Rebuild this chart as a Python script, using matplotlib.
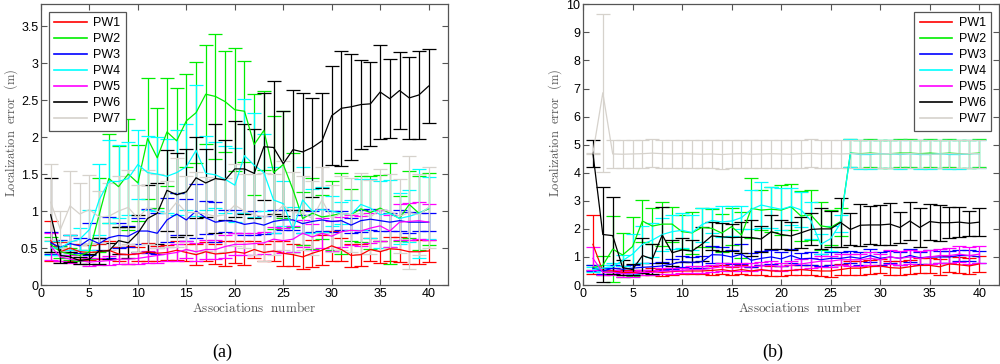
import numpy as np
import matplotlib
matplotlib.use("Agg")
import matplotlib.pyplot as plt
from matplotlib.lines import Line2D

# data (mean and half-width of error bar)
assoc = list(range(1, 41))
series_names = ["PW1", "PW2", "PW3", "PW4", "PW5", "PW6", "PW7"]
series_colors = ["#ff0000", "#00ee00", "#0000ff", "#00ffff", "#ff00ff", "#000000", "#d6d2cc"]

# ---- panel (a)
a_pw1 = [0.60, 0.45, 0.50, 0.45, 0.44, 0.45, 0.47, 0.42, 0.41, 0.42, 0.45, 0.43, 0.44, 0.47, 0.44, 0.41, 0.45, 0.42, 0.43, 0.45,
         0.43, 0.48, 0.44, 0.46, 0.43, 0.41, 0.38, 0.43, 0.47, 0.53, 0.48, 0.40, 0.41, 0.48, 0.45, 0.49, 0.48, 0.45, 0.45, 0.46]
a_pw1_err = [0.27, 0.13, 0.18, 0.10, 0.10, 0.10, 0.12, 0.10, 0.12, 0.10, 0.12, 0.10, 0.10, 0.13, 0.12, 0.14, 0.13, 0.14, 0.17, 0.15,
             0.16, 0.12, 0.12, 0.14, 0.17, 0.15, 0.16, 0.18, 0.20, 0.20, 0.15, 0.15, 0.15, 0.16, 0.15, 0.16, 0.17, 0.16, 0.16, 0.15]
a_pw2 = [0.55, 0.45, 0.42, 0.40, 0.45, 0.95, 1.44, 1.33, 1.50, 1.38, 1.98, 1.72, 2.07, 1.95, 2.22, 2.33, 2.58, 2.55, 2.48, 2.37,
         2.35, 1.90, 2.09, 1.52, 1.63, 1.29, 0.90, 0.97, 0.92, 0.94, 0.97, 0.95, 1.03, 0.98, 1.04, 0.97, 0.90, 1.09, 0.97, 1.03]
a_pw2_err = [0.10, 0.08, 0.08, 0.08, 0.10, 0.50, 0.60, 0.55, 0.75, 0.52, 0.82, 0.68, 0.73, 0.71, 0.63, 0.68, 0.67, 0.84, 0.68, 0.83,
             0.68, 0.68, 0.53, 0.76, 0.72, 0.50, 0.36, 0.48, 0.30, 0.46, 0.55, 0.35, 0.45, 0.49, 0.45, 0.68, 0.30, 0.45, 0.50, 0.49]
a_pw3 = [0.57, 0.51, 0.56, 0.53, 0.62, 0.56, 0.64, 0.67, 0.66, 0.73, 0.73, 0.70, 0.88, 0.96, 0.88, 1.00, 0.91, 0.85, 0.87, 0.86,
         0.82, 0.84, 0.81, 0.86, 0.88, 0.88, 0.83, 0.86, 0.88, 0.86, 0.87, 0.81, 0.87, 0.89, 0.87, 0.85, 0.87, 0.85, 0.85, 0.85]
a_pw3_err = [0.15, 0.10, 0.12, 0.10, 0.22, 0.08, 0.28, 0.17, 0.14, 0.17, 0.30, 0.28, 0.30, 0.28, 0.28, 0.36, 0.22, 0.27, 0.15, 0.15,
             0.15, 0.16, 0.12, 0.16, 0.14, 0.14, 0.12, 0.14, 0.15, 0.14, 0.13, 0.10, 0.15, 0.14, 0.14, 0.12, 0.14, 0.14, 0.12, 0.12]
a_pw4 = [0.50, 0.50, 0.58, 0.62, 0.75, 1.15, 1.40, 1.40, 1.44, 1.63, 1.52, 1.50, 1.47, 1.52, 1.60, 1.82, 1.51, 1.49, 1.43, 1.35,
         1.75, 1.62, 1.52, 1.15, 1.10, 0.75, 1.15, 1.00, 1.02, 1.00, 0.97, 0.95, 1.09, 1.04, 0.95, 0.97, 0.90, 0.93, 0.97, 1.04]
a_pw4_err = [0.10, 0.10, 0.10, 0.15, 0.27, 0.48, 0.56, 0.50, 0.50, 0.47, 0.50, 0.50, 0.50, 0.58, 0.58, 0.89, 0.50, 0.45, 0.45, 0.50,
             0.77, 0.70, 0.52, 0.45, 0.30, 0.30, 0.45, 0.30, 0.30, 0.20, 0.15, 0.20, 0.35, 0.40, 0.45, 0.45, 0.35, 0.35, 0.60, 0.42]
a_pw5 = [0.52, 0.38, 0.35, 0.33, 0.31, 0.32, 0.33, 0.35, 0.35, 0.36, 0.38, 0.40, 0.42, 0.44, 0.48, 0.45, 0.48, 0.48, 0.52, 0.55,
         0.55, 0.56, 0.57, 0.62, 0.60, 0.62, 0.70, 0.65, 0.70, 0.66, 0.72, 0.74, 0.73, 0.77, 0.80, 0.73, 0.85, 0.86, 0.87, 0.85]
a_pw5_err = [0.18, 0.06, 0.05, 0.05, 0.05, 0.05, 0.06, 0.07, 0.07, 0.07, 0.08, 0.10, 0.10, 0.12, 0.12, 0.12, 0.13, 0.13, 0.15, 0.15,
             0.15, 0.15, 0.15, 0.16, 0.17, 0.18, 0.18, 0.18, 0.20, 0.20, 0.20, 0.20, 0.20, 0.20, 0.21, 0.22, 0.24, 0.25, 0.25, 0.24]
a_pw6 = [0.95, 0.40, 0.38, 0.33, 0.35, 0.46, 0.46, 0.60, 0.57, 0.70, 0.90, 0.97, 1.28, 1.22, 1.26, 1.45, 1.38, 1.44, 1.42, 1.57,
         1.57, 1.51, 1.87, 1.86, 1.64, 1.83, 1.80, 1.86, 1.95, 2.29, 2.39, 2.41, 2.44, 2.45, 2.61, 2.52, 2.63, 2.53, 2.57, 2.69]
a_pw6_err = [0.50, 0.10, 0.07, 0.05, 0.07, 0.17, 0.11, 0.18, 0.21, 0.25, 0.45, 0.41, 0.55, 0.57, 0.58, 0.55, 0.46, 0.74, 0.54, 0.65,
             0.61, 0.60, 0.72, 0.90, 0.71, 0.81, 0.79, 0.67, 0.64, 0.67, 0.78, 0.72, 0.60, 0.57, 0.63, 0.53, 0.52, 0.56, 0.60, 0.50]
a_pw7 = [1.12, 0.75, 1.07, 0.96, 1.02, 0.92, 0.93, 1.00, 1.05, 0.90, 1.05, 1.00, 0.96, 1.12, 0.98, 0.98, 0.96, 0.93, 0.95, 1.08,
         1.00, 0.95, 0.92, 0.95, 1.08, 0.98, 0.97, 0.90, 1.15, 0.90, 0.97, 0.95, 0.97, 0.92, 1.02, 1.00, 0.93, 0.98, 0.95, 1.05]
a_pw7_err = [0.51, 0.25, 0.47, 0.42, 0.47, 0.35, 0.45, 0.47, 0.50, 0.45, 0.50, 0.50, 0.45, 0.60, 0.50, 0.55, 0.50, 0.50, 0.50, 0.55,
             0.50, 0.55, 0.60, 0.55, 0.60, 0.55, 0.50, 0.50, 0.45, 0.45, 0.50, 0.50, 0.55, 0.50, 0.55, 0.50, 0.50, 0.77, 0.55, 0.55]

# ---- panel (b)
b_pw1 = [1.45, 0.50, 0.50, 0.45, 0.45, 0.45, 0.48, 0.45, 0.48, 0.50, 0.50, 0.50, 0.52, 0.55, 0.50, 0.55, 0.50, 0.55, 0.50, 0.50,
         0.52, 0.55, 0.52, 0.50, 0.50, 0.55, 0.60, 0.60, 0.65, 0.68, 0.62, 0.60, 0.65, 0.70, 0.70, 0.65, 0.75, 0.72, 0.68, 0.75]
b_pw1_err = [1.05, 0.12, 0.12, 0.10, 0.10, 0.10, 0.12, 0.12, 0.12, 0.12, 0.12, 0.12, 0.15, 0.15, 0.15, 0.15, 0.15, 0.18, 0.18, 0.18,
             0.18, 0.18, 0.18, 0.18, 0.20, 0.20, 0.25, 0.25, 0.25, 0.25, 0.25, 0.25, 0.25, 0.28, 0.28, 0.28, 0.28, 0.28, 0.28, 0.28]
b_pw2 = [0.62, 0.70, 1.28, 1.07, 1.37, 2.28, 2.10, 2.17, 2.17, 1.90, 1.86, 2.05, 2.02, 1.85, 2.08, 1.78, 2.73, 2.67, 2.70, 2.67,
         2.79, 2.46, 2.50, 2.11, 2.05, 2.26, 4.70, 4.68, 4.70, 4.68, 4.68, 4.70, 4.70, 4.68, 4.70, 4.68, 4.70, 4.68, 4.68, 4.70]
b_pw2_err = [0.10, 0.35, 1.17, 0.80, 1.05, 0.75, 0.65, 0.78, 0.62, 0.60, 0.75, 0.70, 0.68, 0.67, 0.65, 0.82, 1.07, 0.72, 0.80, 0.90,
             0.82, 0.90, 0.90, 0.86, 0.64, 0.50, 0.50, 0.50, 0.50, 0.50, 0.50, 0.50, 0.50, 0.50, 0.50, 0.50, 0.50, 0.50, 0.50, 0.50]
b_pw3 = [0.60, 0.50, 0.60, 0.56, 0.60, 0.63, 0.65, 0.68, 0.75, 0.83, 0.81, 0.83, 1.08, 1.07, 1.00, 1.10, 0.88, 0.95, 1.00, 0.93,
         1.05, 0.93, 0.95, 0.90, 0.95, 0.95, 1.00, 0.95, 1.05, 0.95, 1.00, 0.95, 1.05, 0.97, 1.00, 1.00, 1.00, 1.05, 1.05, 1.00]
b_pw3_err = [0.10, 0.12, 0.12, 0.12, 0.12, 0.15, 0.15, 0.15, 0.18, 0.20, 0.20, 0.22, 0.30, 0.28, 0.25, 0.35, 0.25, 0.25, 0.25, 0.25,
             0.25, 0.22, 0.22, 0.22, 0.22, 0.22, 0.22, 0.22, 0.22, 0.22, 0.22, 0.22, 0.22, 0.22, 0.25, 0.22, 0.22, 0.20, 0.20, 0.20]
b_pw4 = [0.55, 0.60, 0.65, 0.87, 1.10, 1.45, 1.60, 1.80, 1.90, 1.95, 1.87, 2.15, 2.30, 2.25, 2.28, 2.40, 2.70, 2.85, 2.77, 2.70,
         2.80, 2.68, 2.30, 1.45, 1.65, 2.20, 4.70, 4.65, 4.65, 4.68, 4.68, 4.65, 4.68, 4.65, 4.65, 4.68, 4.65, 4.65, 4.68, 4.68]
b_pw4_err = [0.08, 0.10, 0.15, 0.20, 0.70, 0.65, 0.60, 0.60, 0.60, 0.62, 0.62, 0.60, 0.45, 0.55, 0.55, 0.40, 0.70, 0.82, 0.73, 0.75,
             0.65, 0.63, 0.65, 0.35, 0.45, 0.30, 0.50, 0.50, 0.50, 0.50, 0.50, 0.50, 0.50, 0.50, 0.50, 0.50, 0.50, 0.50, 0.50, 0.50]
b_pw5 = [0.95, 0.45, 0.45, 0.40, 0.40, 0.45, 0.45, 0.50, 0.50, 0.52, 0.55, 0.55, 0.60, 0.65, 0.65, 0.65, 0.65, 0.68, 0.70, 0.65,
         0.70, 0.75, 0.80, 0.85, 0.85, 0.90, 0.90, 0.90, 0.95, 0.90, 1.00, 0.95, 1.00, 0.95, 1.00, 1.05, 1.05, 1.10, 1.05, 1.10]
b_pw5_err = [0.42, 0.10, 0.10, 0.10, 0.10, 0.10, 0.10, 0.10, 0.10, 0.10, 0.12, 0.12, 0.12, 0.15, 0.15, 0.15, 0.15, 0.15, 0.15, 0.15,
             0.15, 0.18, 0.18, 0.20, 0.20, 0.20, 0.22, 0.22, 0.22, 0.22, 0.25, 0.25, 0.25, 0.25, 0.25, 0.25, 0.28, 0.28, 0.30, 0.30]
b_pw6 = [4.70, 1.80, 1.76, 0.62, 0.55, 1.05, 0.93, 1.78, 1.15, 1.25, 1.21, 1.45, 1.75, 1.72, 1.69, 1.70, 1.69, 1.64, 1.90, 1.80,
         1.75, 1.86, 1.98, 2.00, 2.00, 2.23, 1.98, 2.13, 2.14, 2.14, 2.17, 2.05, 2.28, 2.05, 2.26, 2.22, 2.22, 2.24, 2.20, 2.24]
b_pw6_err = [0.48, 1.70, 1.36, 0.27, 0.20, 0.62, 0.52, 1.00, 0.47, 0.42, 0.40, 0.60, 0.50, 0.50, 0.48, 0.55, 0.64, 0.48, 0.60, 0.53,
             0.50, 0.55, 0.57, 0.73, 0.65, 0.87, 0.57, 0.75, 0.68, 0.70, 0.76, 0.55, 0.68, 0.68, 0.64, 0.64, 0.55, 0.54, 0.45, 0.50]
b_pw7 = [4.70, 6.85, 4.67, 4.66, 4.67, 4.68, 4.70, 4.68, 4.67, 4.68, 4.67, 4.66, 4.67, 4.65, 4.67, 4.68, 4.66, 4.67, 4.68, 4.67,
         4.66, 4.68, 4.69, 4.67, 4.68, 4.67, 4.68, 4.67, 4.68, 4.67, 4.68, 4.67, 4.68, 4.67, 4.66, 4.67, 4.68, 4.67, 4.68, 4.68]
b_pw7_err = [0.02, 2.82, 0.50, 0.50, 0.50, 0.50, 0.50, 0.50, 0.50, 0.50, 0.50, 0.50, 0.50, 0.50, 0.50, 0.50, 0.50, 0.50, 0.50, 0.50,
             0.50, 0.50, 0.50, 0.50, 0.50, 0.50, 0.50, 0.50, 0.50, 0.50, 0.50, 0.50, 0.50, 0.50, 0.50, 0.50, 0.50, 0.50, 0.50, 0.50]

panel_a = [(a_pw1, a_pw1_err), (a_pw2, a_pw2_err), (a_pw3, a_pw3_err), (a_pw4, a_pw4_err),
           (a_pw5, a_pw5_err), (a_pw6, a_pw6_err), (a_pw7, a_pw7_err)]
panel_b = [(b_pw1, b_pw1_err), (b_pw2, b_pw2_err), (b_pw3, b_pw3_err), (b_pw4, b_pw4_err),
           (b_pw5, b_pw5_err), (b_pw6, b_pw6_err), (b_pw7, b_pw7_err)]

plt.rcParams['mathtext.fontset'] = 'cm'
plt.rcParams['font.family'] = ['Liberation Sans', 'DejaVu Sans']

fig = plt.figure(figsize=(10, 3.64), dpi=100)
ax_a = fig.add_axes([0.041, 0.217, 0.407, 0.772])
ax_b = fig.add_axes([0.583, 0.217, 0.416, 0.771])


def draw_panel(ax, data, ylim, yticks, yticklabels, legend_loc, ylab_x):
    for (m, e), c in zip(data, series_colors):
        ax.errorbar(assoc, m, yerr=e, color=c, lw=0.9, elinewidth=0.9,
                    capsize=5, capthick=0.9)
    ax.set_xlim(0, 42)
    ax.set_ylim(*ylim)
    ax.set_xticks(range(0, 41, 5))
    ax.set_yticks(yticks)
    ax.set_yticklabels(yticklabels)
    ax.tick_params(direction='in', top=True, right=True, length=4,
                   width=0.8, labelsize=9, color='#555555', pad=2)
    for s in ax.spines.values():
        s.set_color('#555555')
        s.set_linewidth(0.9)
    ax.set_xlabel(r'$\mathrm{Associations\ \ number}$', fontsize=9.5,
                  color='#555555')
    ax.xaxis.set_label_coords(0.523, -0.057)
    ax.set_ylabel(r'$\mathrm{Localization\ \ error\ \ (m)}$', fontsize=9,
                  color='#555555')
    ax.yaxis.set_label_coords(ylab_x, 0.54)
    handles = [Line2D([], [], color=c, lw=1.2) for c in series_colors]
    leg = ax.legend(handles, series_names, loc=legend_loc, fontsize=9,
                    handlelength=2.6, labelspacing=0.32, borderpad=0.45,
                    handletextpad=0.5, fancybox=False, framealpha=1,
                    borderaxespad=0.6)
    leg.get_frame().set_edgecolor('#555555')
    leg.get_frame().set_linewidth(0.9)


draw_panel(ax_a, panel_a, (0, 3.8), [0, 0.5, 1, 1.5, 2, 2.5, 3, 3.5],
           ['0', '0.5', '1', '1.5', '2', '2.5', '3', '3.5'], 'upper left', -0.052)
draw_panel(ax_b, panel_b, (0, 10), range(0, 11),
           [str(v) for v in range(0, 11)], 'upper right', -0.045)

fig.text(0.222, 0.033, '(a)', ha='center', va='center', fontsize=13,
         family='Liberation Serif')
fig.text(0.773, 0.033, '(b)', ha='center', va='center', fontsize=13,
         family='Liberation Serif')

fig.savefig('out.png', dpi=100)
